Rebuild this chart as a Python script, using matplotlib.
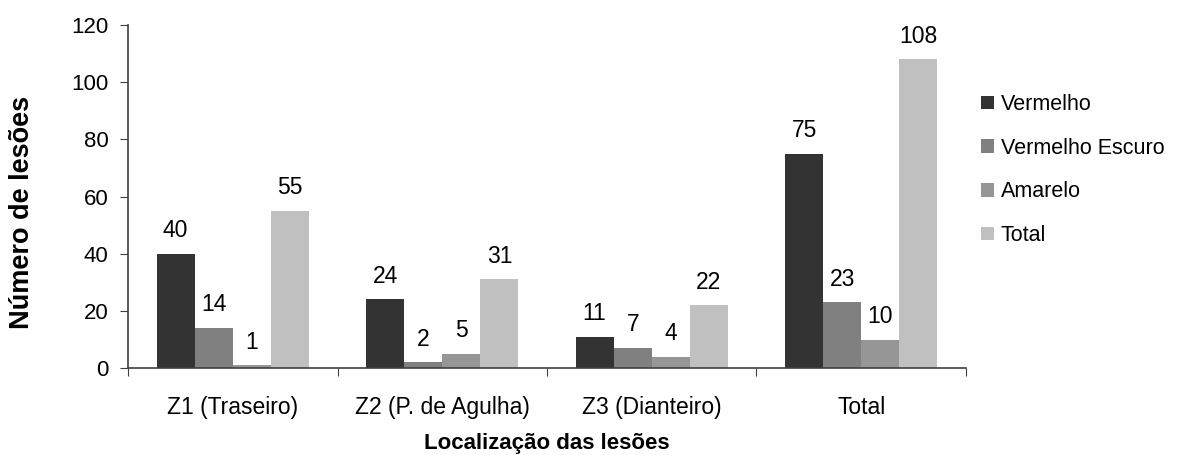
import numpy as np
import matplotlib.pyplot as plt

plt.rcParams['font.family'] = ['Liberation Sans', 'DejaVu Sans']

zonas = ['Z1 (Traseiro)', 'Z2 (P. de Agulha)', 'Z3 (Dianteiro)', 'Total']
series = ['Vermelho', 'Vermelho Escuro', 'Amarelo', 'Total']
vermelho = [40, 24, 11, 75]
vermelho_escuro = [14, 2, 7, 23]
amarelo = [1, 5, 4, 10]
total = [55, 31, 22, 108]
cores = ['#333333', '#808080', '#969696', '#c0c0c0']

valores = [vermelho, vermelho_escuro, amarelo, total]

fig = plt.figure(figsize=(11.78, 4.55), dpi=100)
ax = fig.add_axes([0.1087, 0.191, 0.7113, 0.754])

x = np.arange(len(zonas))
w = 1 / 5.5
for i, (nome, vals, cor) in enumerate(zip(series, valores, cores)):
    pos = x + (i - 1.5) * w
    ax.bar(pos, vals, width=w, color=cor, label=nome)
    for px, v in zip(pos, vals):
        ax.annotate(str(v), (px, v), xytext=(0, 12), textcoords='offset points',
                    ha='center', va='baseline', fontsize=16.5)

ax.set_xlim(-0.5, len(zonas) - 0.5)
ax.set_ylim(0, 120)
ax.set_yticks(range(0, 121, 20))
ax.set_xticks(np.arange(-0.5, len(zonas), 1))
ax.set_xticklabels([])
ax.set_xticks(x, minor=True)
ax.set_xticklabels(zonas, minor=True, fontsize=16.5)
ax.tick_params(axis='x', which='minor', length=0, pad=20)
ax.tick_params(axis='x', which='major', length=6, direction='out', color='#404040')
ax.tick_params(axis='y', length=6, direction='out', labelsize=16, pad=8, color='#404040')

for s in ['top', 'right']:
    ax.spines[s].set_visible(False)
for s in ['left', 'bottom']:
    ax.spines[s].set_color('#404040')
    ax.spines[s].set_linewidth(1.2)

ax.set_xlabel('Localização das lesões', fontsize=16, fontweight='bold', labelpad=10)
ax.set_ylabel('Número de lesões', fontsize=19.5, fontweight='bold')
ax.yaxis.set_label_coords(-0.111, 0.455)

ax.legend(loc='upper left', bbox_to_anchor=(0.995, 0.855), frameon=False,
          fontsize=15.5, handlelength=0.6, handleheight=0.6, handletextpad=0.3,
          labelspacing=1.05)

fig.savefig('out.png', dpi=100)
